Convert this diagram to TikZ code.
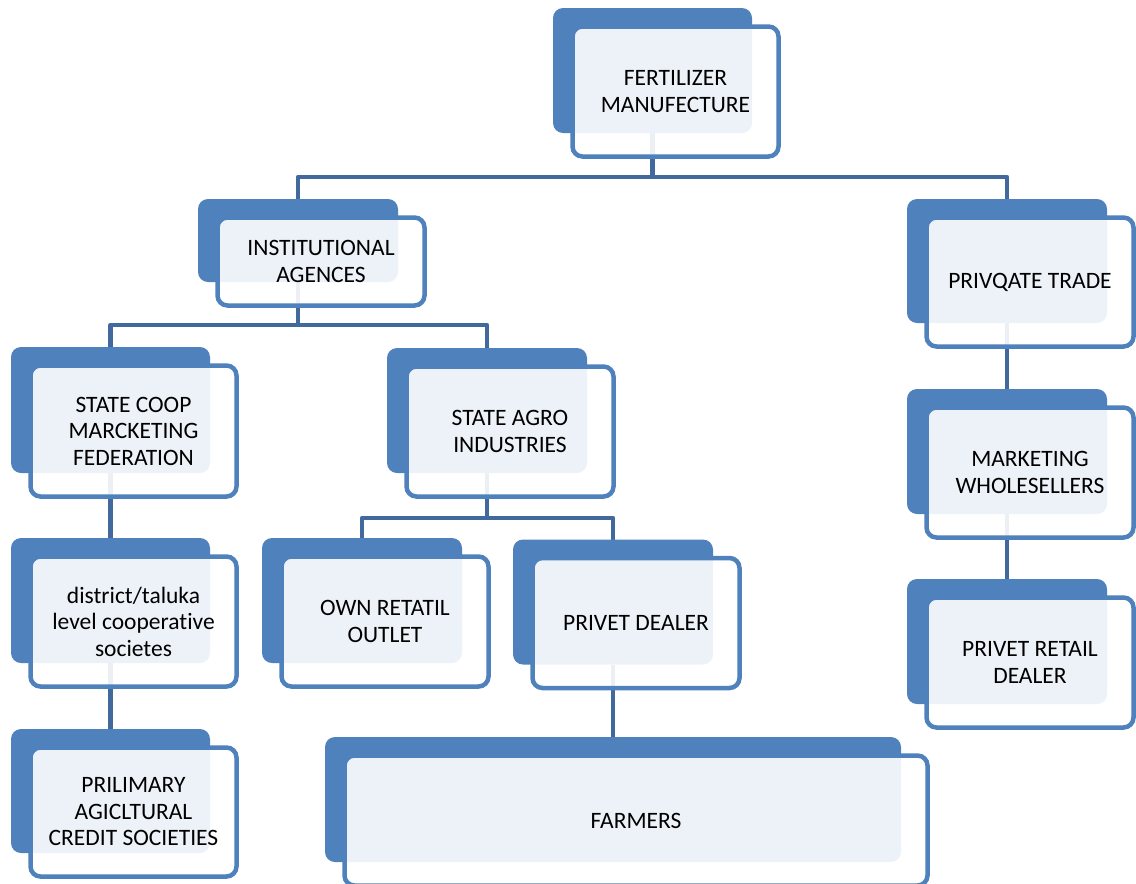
\documentclass[tikz,border=0pt]{standalone}
\usepackage{fontspec}
\setmainfont{Carlito}[Ligatures={NoCommon}]
\usetikzlibrary{backgrounds}
\definecolor{boxblue}{HTML}{4F81BD}
\definecolor{linkblue}{HTML}{41699D}
\newcommand\chartbox[6]{%
  \node[backbox, minimum width=#4pt, minimum height=#5pt] (#1A) at (#2,#3) {};
  \node[frontbox, minimum width={#4pt+7pt}, minimum height={#5pt+5pt}] (#1) at ([shift={(23,21)}]#1A.center) {#6};
}
\begin{document}
\begin{tikzpicture}[x=1pt,y=-1pt,
  backbox/.style={fill=boxblue, rounded corners=10pt, inner sep=0pt, outer sep=0pt},
  frontbox/.style={draw=boxblue, line width=4.5pt, fill=white, fill opacity=0.9, text opacity=1,
    rounded corners=10pt, align=center, inner sep=0pt, outer sep=0pt, text=black,
    font=\fontsize{23.5}{26.5}\selectfont},
  link/.style={draw=linkblue, line width=4.5pt, line join=round}]
\useasboundingbox (0,0) rectangle (1136,884);

\chartbox{f}{652.5}{70.5}{199}{125}{FERTILIZER\\MANUFECTURE}
\chartbox{i}{298}{240.5}{200}{83}{INSTITUTIONAL\\AGENCES}
\chartbox{p}{1007}{261}{200}{124}{PRIVQATE TRADE}
\chartbox{c}{110.5}{410}{199}{126}{STATE COOP\\MARCKETING\\FEDERATION}
\chartbox{a}{487}{410.5}{200}{125}{STATE AGRO\\INDUSTRIES}
\chartbox{m}{1007}{451.5}{200}{125}{MARKETING\\WHOLESELLERS}
\chartbox{t}{110.5}{600.5}{199}{125}{district/taluka\\level cooperative\\societes}
\chartbox{o}{362}{600.5}{200}{125}{OWN RETATIL\\OUTLET}
\chartbox{d}{613}{602}{200}{125}{PRIVET DEALER}
\chartbox{e}{1007}{641.5}{200}{125}{PRIVET RETAIL\\DEALER}
\chartbox{r}{110.5}{791}{199}{124}{PRILIMARY\\AGICLTURAL\\CREDIT SOCIETIES}
\chartbox{g}{613}{799.5}{576}{125}{FARMERS}

\begin{scope}[on background layer]
  \draw[link] (fA.south) -- ++(0,44) -| (iA.north);
  \draw[link] (fA.south) -- ++(0,44) -| (pA.north);
  \draw[link] (iA.south) -- ++(0,43) -| (cA.north);
  \draw[link] (iA.south) -- ++(0,43) -| (aA.north);
  \draw[link] (aA.south) -- ++(0,45) -| (oA.north);
  \draw[link] (aA.south) -- ++(0,45) -| (dA.north);
  \draw[link] (cA.south) -- (tA.north);
  \draw[link] (tA.south) -- (rA.north);
  \draw[link] (dA.south) -- (gA.north);
  \draw[link] (pA.south) -- (mA.north);
  \draw[link] (mA.south) -- (eA.north);
\end{scope}
\end{tikzpicture}
\end{document}
